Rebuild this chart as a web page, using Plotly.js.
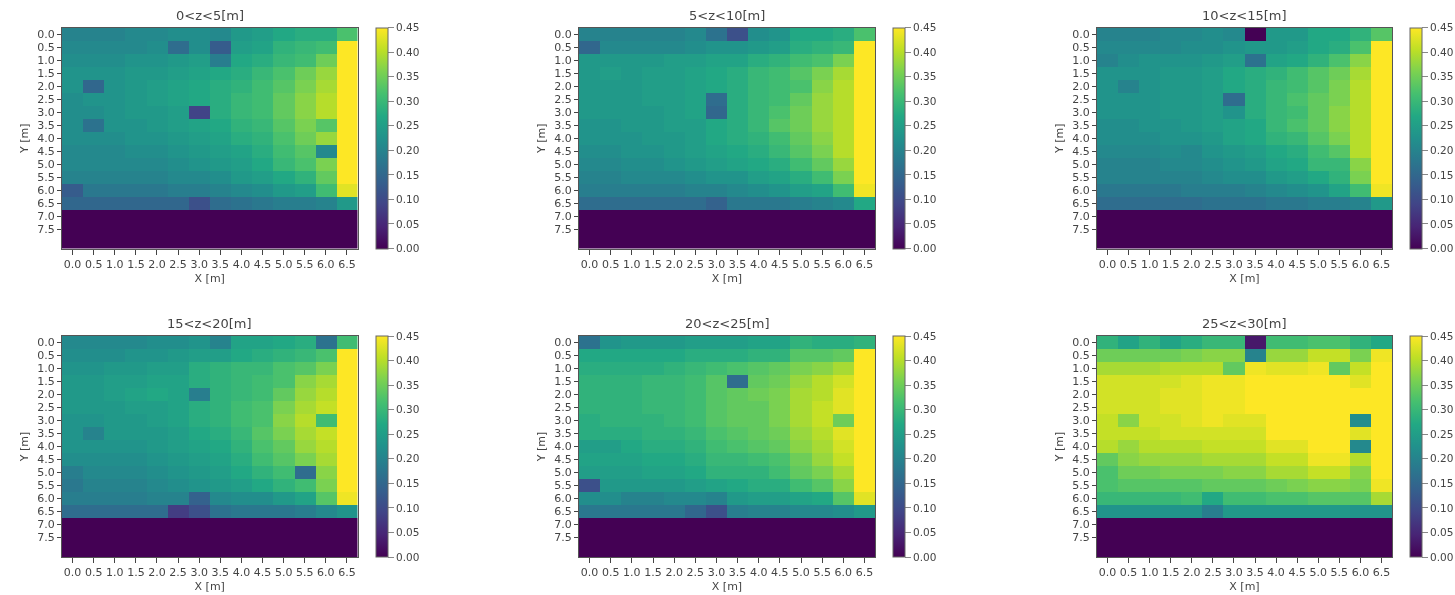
<!DOCTYPE html>
<html><head><meta charset="utf-8">
<script src="https://cdn.plot.ly/plotly-3.0.1.min.js"></script>
<style>html,body{margin:0;padding:0;background:#fff}#c{width:1455px;height:595px;filter:blur(0.5px)}</style>
</head><body><div id="c"></div>
<script>
const xVals=[0,0.5,1,1.5,2,2.5,3,3.5,4,4.5,5,5.5,6,6.5];
const yVals=[0,0.5,1,1.5,2,2.5,3,3.5,4,4.5,5,5.5,6,6.5,7,7.5,8];
const yTicks=[0,0.5,1,1.5,2,2.5,3,3.5,4,4.5,5,5.5,6,6.5,7,7.5];
const cbTicks=[0,0.05,0.1,0.15,0.2,0.25,0.3,0.35,0.4,0.45];
const emptyRow=[0,0,0,0,0,0,0,0,0,0,0,0,0,0];
const titles=['0<z<5[m]','5<z<10[m]','10<z<15[m]','15<z<20[m]','20<z<25[m]','25<z<30[m]'];
const viridis=[[0,'#440154'],[.1,'#482475'],[.2,'#414487'],[.3,'#355f8d'],[.4,'#2a788e'],[.5,'#21918c'],[.6,'#22a884'],[.7,'#44bf70'],[.8,'#7ad151'],[.9,'#bddf26'],[1,'#fde725']];

const z0to5=[
[.20,.20,.20,.21,.21,.22,.22,.21,.24,.25,.27,.28,.28,.32],
[.21,.21,.21,.21,.22,.16,.22,.13,.25,.26,.29,.30,.31,.45],
[.22,.22,.22,.23,.23,.24,.25,.19,.27,.28,.30,.31,.35,.45],
[.23,.23,.23,.24,.24,.25,.26,.27,.28,.30,.32,.35,.38,.45],
[.23,.15,.23,.24,.25,.26,.27,.28,.29,.31,.33,.36,.39,.45],
[.22,.23,.23,.24,.25,.26,.27,.28,.30,.31,.34,.37,.40,.45],
[.22,.22,.23,.24,.24,.25,.09,.28,.30,.31,.34,.37,.40,.45],
[.22,.17,.23,.23,.24,.25,.26,.27,.29,.30,.33,.36,.33,.45],
[.22,.22,.22,.23,.23,.24,.25,.26,.28,.29,.32,.35,.38,.45],
[.21,.21,.21,.22,.22,.23,.24,.25,.26,.28,.31,.33,.21,.45],
[.21,.21,.21,.21,.21,.22,.23,.24,.25,.27,.30,.32,.36,.45],
[.20,.20,.20,.20,.20,.21,.21,.22,.24,.25,.27,.29,.34,.45],
[.13,.18,.18,.18,.18,.19,.19,.20,.21,.22,.24,.25,.31,.43],
[.15,.15,.15,.15,.15,.15,.11,.16,.17,.18,.19,.19,.20,.24],
emptyRow,emptyRow,emptyRow];
const z5to10=[
[.20,.20,.20,.20,.20,.21,.17,.11,.22,.23,.27,.27,.28,.32],
[.15,.21,.21,.21,.21,.22,.23,.23,.24,.25,.28,.29,.30,.45],
[.24,.24,.24,.24,.25,.25,.26,.26,.28,.29,.31,.32,.36,.45],
[.24,.25,.24,.25,.25,.26,.27,.28,.30,.31,.33,.36,.39,.45],
[.24,.24,.24,.25,.25,.26,.27,.28,.30,.31,.32,.37,.40,.45],
[.24,.24,.24,.25,.25,.26,.16,.28,.30,.31,.34,.38,.40,.45],
[.24,.24,.24,.24,.25,.26,.15,.28,.30,.32,.35,.38,.40,.45],
[.23,.23,.24,.24,.25,.25,.27,.28,.30,.33,.35,.38,.40,.45],
[.23,.23,.23,.24,.24,.25,.27,.28,.29,.31,.34,.37,.40,.45],
[.22,.22,.23,.23,.24,.25,.26,.27,.28,.30,.33,.36,.40,.45],
[.21,.21,.22,.22,.23,.24,.25,.26,.27,.28,.31,.34,.38,.45],
[.20,.20,.21,.21,.21,.22,.23,.23,.25,.26,.28,.31,.36,.45],
[.19,.19,.19,.19,.19,.20,.20,.21,.22,.23,.25,.26,.31,.44],
[.16,.16,.16,.16,.16,.16,.14,.18,.18,.18,.19,.20,.21,.27],
emptyRow,emptyRow,emptyRow];
const z10to15=[
[.20,.20,.20,.21,.21,.22,.21,.00,.24,.24,.27,.27,.29,.33],
[.21,.21,.21,.21,.22,.22,.23,.24,.24,.25,.27,.28,.32,.45],
[.20,.22,.23,.23,.23,.24,.25,.17,.26,.27,.29,.32,.37,.45],
[.23,.23,.23,.24,.24,.25,.27,.28,.29,.31,.33,.35,.39,.45],
[.23,.20,.23,.24,.24,.25,.27,.28,.30,.31,.33,.36,.40,.45],
[.23,.23,.23,.24,.24,.25,.16,.28,.30,.32,.34,.36,.40,.45],
[.23,.23,.23,.24,.24,.25,.23,.28,.30,.31,.34,.37,.40,.45],
[.22,.22,.23,.23,.24,.25,.26,.27,.30,.32,.34,.37,.40,.45],
[.22,.22,.22,.23,.23,.24,.26,.27,.29,.30,.33,.36,.40,.45],
[.21,.21,.21,.22,.21,.23,.24,.25,.27,.28,.31,.33,.40,.45],
[.20,.20,.20,.21,.21,.22,.23,.24,.26,.27,.30,.30,.37,.45],
[.20,.20,.20,.20,.20,.21,.22,.22,.24,.25,.27,.29,.36,.45],
[.18,.18,.18,.18,.19,.19,.19,.20,.21,.22,.23,.26,.31,.44],
[.16,.16,.16,.16,.16,.17,.17,.17,.18,.18,.19,.19,.20,.24],
emptyRow,emptyRow,emptyRow];
const z15to20=[
[.21,.21,.21,.21,.22,.22,.23,.20,.26,.26,.27,.28,.17,.31],
[.22,.22,.22,.23,.23,.24,.25,.25,.27,.28,.29,.30,.32,.45],
[.23,.23,.24,.24,.25,.25,.28,.29,.30,.30,.32,.33,.36,.45],
[.24,.24,.25,.25,.26,.26,.28,.29,.30,.31,.32,.37,.39,.45],
[.24,.24,.25,.26,.27,.26,.19,.29,.30,.31,.34,.38,.40,.45],
[.24,.24,.24,.25,.25,.26,.28,.29,.31,.32,.36,.39,.41,.45],
[.23,.23,.24,.24,.25,.26,.28,.29,.31,.32,.37,.40,.31,.45],
[.23,.20,.24,.24,.24,.25,.27,.28,.30,.33,.36,.39,.41,.45],
[.23,.23,.23,.23,.24,.25,.26,.27,.29,.32,.34,.38,.40,.45],
[.22,.22,.22,.22,.23,.24,.25,.26,.28,.31,.33,.36,.39,.45],
[.19,.21,.21,.21,.22,.23,.24,.25,.27,.29,.31,.16,.37,.45],
[.18,.20,.20,.20,.21,.22,.23,.24,.25,.27,.29,.31,.36,.45],
[.19,.19,.19,.19,.20,.20,.14,.21,.22,.22,.24,.26,.33,.44],
[.16,.16,.16,.16,.16,.08,.11,.17,.18,.18,.18,.19,.21,.23],
emptyRow,emptyRow,emptyRow];
const z20to25=[
[.17,.23,.24,.24,.24,.25,.25,.25,.26,.26,.29,.28,.28,.29],
[.27,.27,.27,.27,.27,.28,.28,.28,.29,.29,.33,.33,.34,.45],
[.28,.28,.28,.28,.29,.30,.31,.32,.33,.34,.36,.37,.39,.45],
[.29,.29,.29,.30,.30,.31,.33,.16,.34,.35,.38,.40,.42,.45],
[.29,.29,.29,.30,.30,.31,.33,.34,.35,.36,.39,.40,.43,.45],
[.29,.29,.29,.30,.30,.31,.33,.34,.34,.36,.39,.41,.43,.45],
[.28,.29,.29,.29,.30,.31,.33,.34,.34,.36,.39,.41,.35,.45],
[.28,.28,.28,.29,.29,.30,.32,.33,.34,.35,.38,.40,.43,.45],
[.25,.25,.27,.28,.28,.29,.31,.32,.33,.34,.37,.39,.42,.45],
[.26,.26,.26,.27,.27,.28,.30,.30,.31,.32,.35,.38,.41,.45],
[.25,.25,.25,.26,.26,.27,.29,.29,.29,.31,.34,.36,.39,.45],
[.11,.24,.24,.24,.24,.25,.26,.27,.28,.28,.31,.33,.37,.45],
[.22,.22,.20,.20,.21,.21,.20,.24,.25,.25,.26,.27,.33,.43],
[.18,.18,.18,.18,.18,.15,.11,.19,.20,.20,.21,.21,.22,.24],
emptyRow,emptyRow,emptyRow];
const z25to30=[
[.29,.26,.29,.26,.28,.30,.30,.03,.31,.31,.32,.32,.29,.27],
[.35,.35,.35,.35,.36,.37,.37,.20,.38,.38,.41,.41,.36,.44],
[.39,.39,.39,.40,.40,.40,.34,.44,.43,.43,.44,.34,.41,.45],
[.42,.42,.42,.42,.43,.44,.44,.45,.45,.45,.45,.45,.43,.45],
[.42,.42,.42,.43,.43,.44,.44,.45,.45,.45,.45,.45,.45,.45],
[.42,.42,.42,.43,.43,.44,.44,.45,.45,.45,.45,.45,.45,.45],
[.41,.37,.42,.42,.43,.44,.43,.43,.45,.45,.45,.45,.22,.45],
[.41,.41,.41,.42,.42,.42,.42,.42,.45,.45,.45,.45,.43,.45],
[.40,.38,.40,.40,.40,.41,.41,.41,.43,.43,.45,.45,.21,.45],
[.34,.37,.38,.38,.38,.39,.39,.39,.41,.41,.44,.44,.40,.45],
[.32,.35,.35,.36,.36,.36,.37,.37,.39,.39,.41,.41,.37,.45],
[.32,.33,.33,.33,.33,.34,.34,.34,.35,.36,.37,.37,.36,.44],
[.30,.30,.30,.30,.31,.27,.31,.31,.32,.32,.33,.33,.33,.39],
[.23,.23,.23,.23,.23,.19,.24,.24,.24,.24,.24,.24,.23,.23],
emptyRow,emptyRow,emptyRow];
const panels=[z0to5,z5to10,z10to15,z15to20,z20to25,z25to30];

const W=1455,H=595;
const plotX=[[62,357.5],[579,875],[1097,1392]];
const cbX=[376,893,1410];
const plotY=[[28,248.5],[336,557]];
const cbW=12;
const textColor='#444';
const fontFamily='"DejaVu Sans",sans-serif';

const traces=[],layout={width:W,height:H,margin:{l:0,r:0,t:0,b:0},paper_bgcolor:'#fff',plot_bgcolor:'#fff',showlegend:false,annotations:[]};
panels.forEach((z,i)=>{
  const col=i%3,row=Math.floor(i/3),s=i===0?'':String(i+1);
  const px=plotX[col],py=plotY[row];
  traces.push({type:'heatmap',x:xVals,y:yVals,z:z,zmin:0,zmax:0.45,colorscale:viridis,xaxis:'x'+s,yaxis:'y'+s,xgap:0,ygap:0,
    colorbar:{x:cbX[col]/W,xanchor:'left',xref:'paper',y:1-py[1]/H,yanchor:'bottom',yref:'paper',len:(py[1]-py[0])/H,lenmode:'fraction',
      thickness:cbW,thicknessmode:'pixels',tickmode:'array',tickvals:cbTicks,ticktext:cbTicks.map(v=>v.toFixed(2)),
      ticks:'outside',ticklen:6,tickwidth:1,tickcolor:'#888',outlinecolor:'#666',outlinewidth:1,xpad:0,ypad:0,
      tickfont:{family:fontFamily,size:10.5,color:textColor}}});
  layout['xaxis'+s]={domain:[px[0]/W,px[1]/W],range:[-0.25,6.75],anchor:'y'+s,tickmode:'array',tickvals:xVals,ticktext:xVals.map(v=>v.toFixed(1)),
    ticks:'outside',ticklen:5,tickwidth:1,tickcolor:'#444',showgrid:false,zeroline:false,showline:true,linecolor:'#555',linewidth:1,mirror:true,
    tickfont:{family:fontFamily,size:11,color:textColor},title:{text:'X [m]',standoff:4,font:{family:fontFamily,size:11,color:textColor}}};
  layout['yaxis'+s]={domain:[1-py[1]/H,1-py[0]/H],range:[8.25,-0.25],anchor:'x'+s,tickmode:'array',tickvals:yTicks,ticktext:yTicks.map(v=>v.toFixed(1)),
    ticks:'outside',ticklen:4,tickwidth:1,tickcolor:'#444',showgrid:false,zeroline:false,showline:true,linecolor:'#555',linewidth:1,mirror:true,
    tickfont:{family:fontFamily,size:11,color:textColor},title:{text:'Y [m]',standoff:6,font:{family:fontFamily,size:11,color:textColor}}};
  layout.annotations.push({text:titles[i],xref:'paper',yref:'paper',x:(px[0]+px[1])/2/W,y:1-(py[0]-3)/H,xanchor:'center',yanchor:'bottom',showarrow:false,
    font:{family:fontFamily,size:13,color:textColor}});
});
Plotly.newPlot('c',traces,layout,{displayModeBar:false,staticPlot:true});
</script></body></html>
